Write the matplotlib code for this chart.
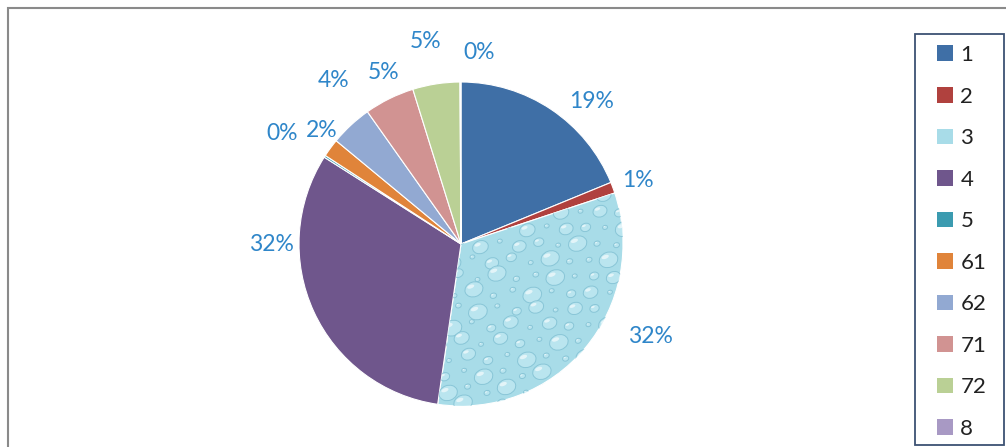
import numpy as np
import matplotlib.pyplot as plt
from matplotlib.patches import Patch, Rectangle, Ellipse

plt.rcParams['font.family'] = ['Lato', 'DejaVu Sans']

categories = ['1', '2', '3', '4', '5', '61', '62', '71', '72', '8']
shares = [18.8, 1.1, 32.4, 31.7, 0.2, 1.8, 4.2, 5.0, 4.7, 0.1]
colors = ['#3f6fa6', '#b0413e', '#a8dce8', '#6f568c', '#3b9bb0',
          '#e0843a', '#92a9d2', '#d19392', '#bad095', '#a899c4']
# where Excel put the data labels: angle (deg) and distance in pie radii
label_ang = [47.5, 19.9, -26.0, 180.3, 148.3, 140.9, 127.8, 114.2, 99.8, 84.6]
label_rad = [1.19, 1.16, 1.30, 1.17, 1.30, 1.11, 1.28, 1.16, 1.27, 1.19]

W, H = 1006, 447
fig = plt.figure(figsize=(W / 100, H / 100), dpi=100)

# gray outer frame of the chart area (right and bottom sides are cut off)
fig.add_artist(Rectangle((8 / W, -0.1), 1.2, 1 - 8 / H + 0.1,
                         transform=fig.transFigure, fill=False,
                         edgecolor='#8a8a8a', linewidth=1.5))

cx, cy, R = 461, 244, 162
half = 200
ax = fig.add_axes([(cx - half) / W, (H - cy - half) / H, 2 * half / W, 2 * half / H])

wedges, _ = ax.pie(shares, colors=colors, startangle=90, counterclock=False,
                   radius=1, wedgeprops=dict(edgecolor='white', linewidth=0.8))
ax.set_xlim(-half / R, half / R)
ax.set_ylim(-half / R, half / R)
ax.axis('off')

# water drop texture on slice "3"
water = wedges[2]
for i in range(-3, 11):
    for j in range(-12, 4):
        x = i * 0.12 + (j % 2) * 0.06 + 0.02 * np.sin(3.7 * j)
        y = j * 0.1 + 0.02 * np.cos(2.9 * i)
        s = 0.015 + 0.045 * (0.5 + 0.5 * np.sin(2.3 * i + 1.7 * j)) ** 2
        e = Ellipse((x, y), 2 * s, 1.6 * s, angle=20, facecolor='#bfe8f1',
                    edgecolor='#7fbfd2', linewidth=0.7, alpha=0.8, zorder=3)
        e.set_clip_path(water)
        ax.add_patch(e)
        hl = Ellipse((x - 0.35 * s, y + 0.3 * s), 0.8 * s, 0.4 * s, angle=20,
                     facecolor='white', edgecolor='none', alpha=0.6, zorder=4)
        hl.set_clip_path(water)
        ax.add_patch(hl)

for val, a, r in zip(shares, label_ang, label_rad):
    t = np.deg2rad(a)
    ax.text(r * np.cos(t), r * np.sin(t), f'{val:.0f}%', ha='center', va='center',
            color='#2f86c9', fontsize=16.5)

# legend frame drawn on its own so the padding matches
fig.add_artist(Rectangle((915 / W, 1 - 445 / H), 89 / W, 411 / H,
                         transform=fig.transFigure, fill=False,
                         edgecolor='#3d5273', linewidth=1.3))
handles = [Patch(facecolor=c, edgecolor='none') for c in colors]
leg = fig.legend(handles, categories, loc='upper left',
                 bbox_to_anchor=(937 / W, 1 - 45 / H), bbox_transform=fig.transFigure,
                 frameon=False, borderaxespad=0, borderpad=0,
                 handlelength=0.7, handleheight=0.7,
                 handletextpad=0.35, labelspacing=0.97, fontsize=16)
for txt in leg.get_texts():
    txt.set_color('#222222')

fig.savefig('out.png', dpi=100, facecolor='white')
